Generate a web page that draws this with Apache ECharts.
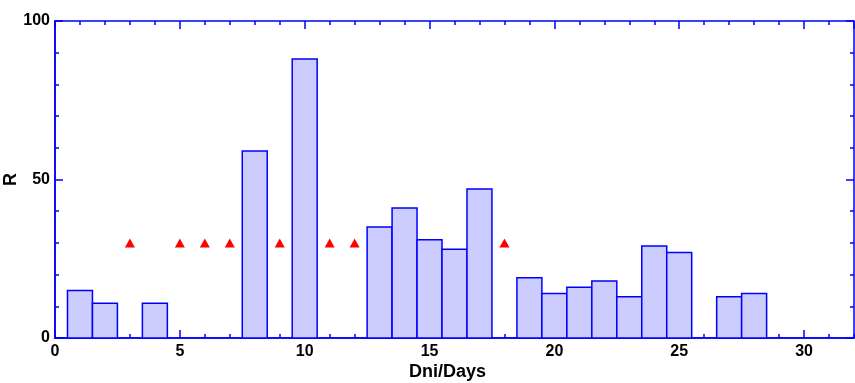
<!DOCTYPE html>
<html>
<head>
<meta charset="utf-8">
<script src="https://cdn.jsdelivr.net/npm/echarts@6/dist/echarts.min.js"></script>
<style>html,body{margin:0;padding:0;background:#fff}#c{width:855px;height:383px}</style>
</head>
<body>
<div id="c"></div>
<script>
// Data
const days = [1,2,3,4,5,6,7,8,9,10,11,12,13,14,15,16,17,18,19,20,21,22,23,24,25,26,27,28];
const rValues = [15,11,null,11,null,null,null,59,null,88,null,null,35,41,31,28,47,null,19,14,16,18,13,29,27,null,13,14];
const markerDays = [3,5,6,7,9,11,12,18];
const markerValue = 30;
const xTickLabels = ['0','5','10','15','20','25','30'];

const blue = '#0000ff';
const font = 'Arial, "Liberation Sans", sans-serif';

const barData = days.map((d,i)=>[d, rValues[i]]).filter(p=>p[1]!==null);
const markerData = markerDays.map(d=>[d, markerValue]);

const gridRect = {left:55, right:1, top:21, bottom:45, containLabel:false, outerBoundsMode:'none'};

function xAx(gi, pos, interval, len, main){
  return {
    gridIndex:gi, type:'value', min:0, max:32, interval:interval, position:pos,
    axisLine:{show: main, onZero:false, lineStyle:{color:blue,width:1.5}},
    axisTick:{show:true, inside:true, length:len, lineStyle:{color:blue,width:1.5}},
    axisLabel:{show:main, showMaxLabel:false, color:'#000', fontSize:16, fontWeight:'bold', fontFamily:font, margin:6,
      formatter: v => xTickLabels.includes(String(v)) ? String(v) : ''},
    splitLine:{show:false},
    name: main ? 'Dni/Days' : '', nameLocation:'middle', nameGap:25, nameMoveOverlap:false,
    nameTextStyle:{fontWeight:'bold', fontSize:18, fontFamily:font, color:'#000', padding:[0,14,0,0]}
  };
}
function yAx(gi, pos, interval, len, main){
  return {
    gridIndex:gi, type:'value', min:0, max:100, interval:interval, position:pos,
    axisLine:{show: main, onZero:false, lineStyle:{color:blue,width:1.5}},
    axisTick:{show:true, inside:true, length:len, lineStyle:{color:blue,width:1.5}},
    axisLabel:{show:main, color:'#000', fontSize:16, fontWeight:'bold', fontFamily:font, margin:5},
    splitLine:{show:false},
    name: main ? 'R' : '', nameLocation:'middle', nameGap:35, nameRotate:90, nameMoveOverlap:false,
    nameTextStyle:{fontWeight:'bold', fontSize:18, fontFamily:font, color:'#000'}
  };
}

const chart = echarts.init(document.getElementById('c'), null, {renderer:'canvas'});
chart.setOption({
  animation:false,
  backgroundColor:'#fff',
  grid:[
    Object.assign({show:true, borderColor:blue, borderWidth:1.5, backgroundColor:'transparent'}, gridRect),
    Object.assign({}, gridRect),
    Object.assign({}, gridRect),
    Object.assign({}, gridRect)
  ],
  xAxis:[
    xAx(0,'bottom',5,8,true),
    xAx(1,'bottom',1,4,false),
    xAx(2,'top',5,8,false),
    xAx(3,'top',1,4,false)
  ],
  yAxis:[
    yAx(0,'left',50,8,true),
    yAx(1,'left',10,4,false),
    yAx(2,'right',50,8,false),
    yAx(3,'right',10,4,false)
  ],
  series:[
    {
      type:'custom',
      xAxisIndex:0, yAxisIndex:0,
      data: barData,
      renderItem:function(params, api){
        const x = api.value(0), y = api.value(1);
        const p0 = api.coord([x-0.5, 0]);
        const p1 = api.coord([x+0.5, y]);
        return {
          type:'rect',
          shape:{x:p0[0], y:p1[1], width:p1[0]-p0[0], height:p0[1]-p1[1]},
          style:{fill:'#ccccff', stroke:blue, lineWidth:1.5}
        };
      },
      z:3
    },
    {
      type:'scatter',
      xAxisIndex:0, yAxisIndex:0,
      data: markerData,
      symbol:'triangle', symbolSize:[10,9],
      itemStyle:{color:'#ff0000', opacity:1},
      z:4
    }
  ]
});
</script>
</body>
</html>
